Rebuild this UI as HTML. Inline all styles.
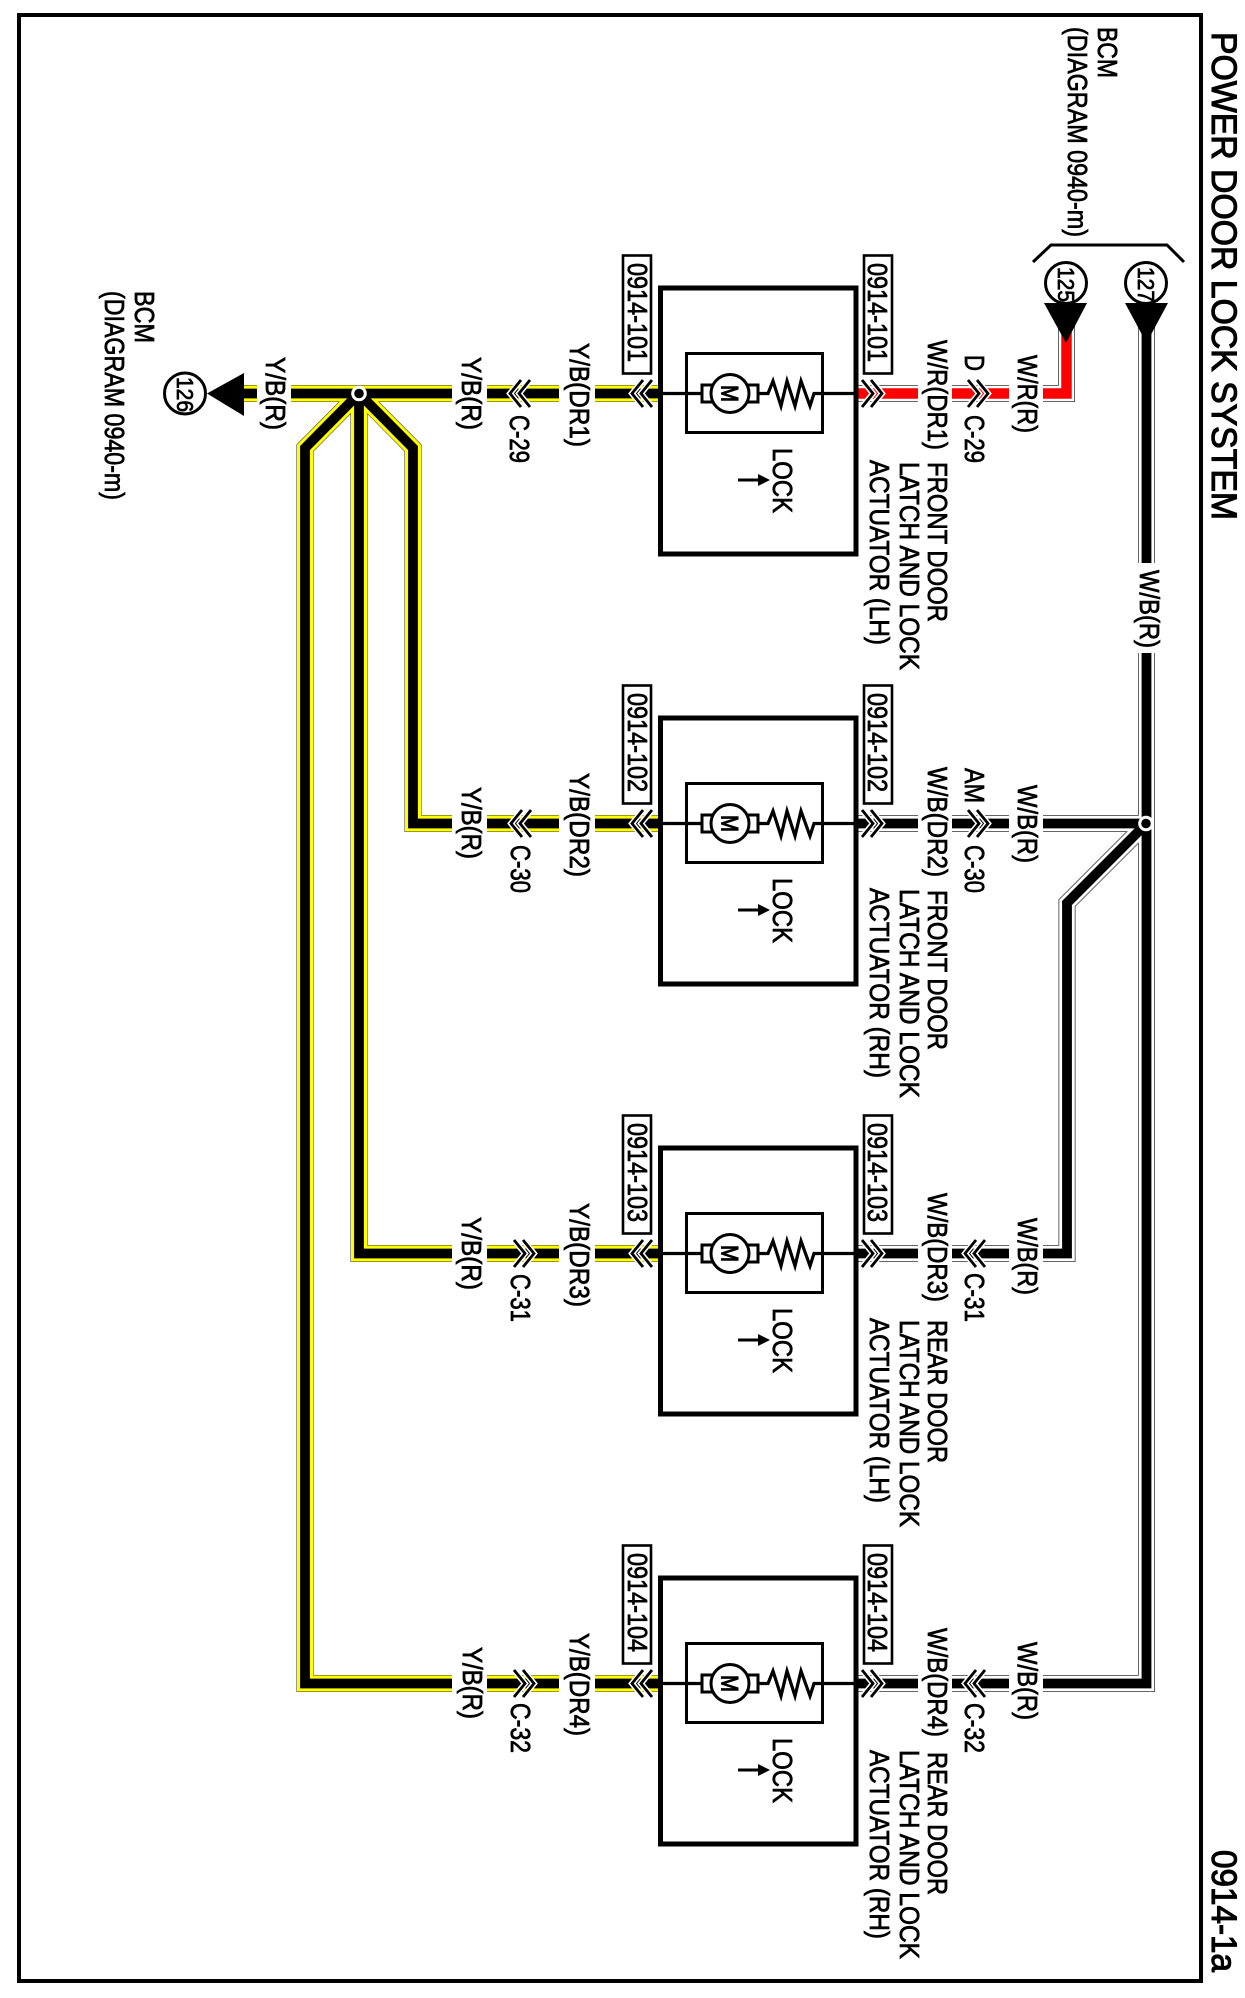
<!DOCTYPE html>
<html><head><meta charset="utf-8"><title>Power Door Lock System</title>
<style>
html,body{margin:0;padding:0;background:#fff}
svg{display:block}
text{font-family:"Liberation Sans",Arial,sans-serif;font-size:27.5px;fill:#000;stroke:#000;stroke-width:.75px}
.w{fill:none;stroke-linejoin:miter;stroke-miterlimit:10}
.chev{fill:none;stroke:#000;stroke-width:2.8}
.hal{fill:none;stroke:#fff;stroke-width:6}
</style></head><body>
<svg width="1245" height="1998" viewBox="0 0 1245 1998" xmlns="http://www.w3.org/2000/svg">
<rect width="1245" height="1998" fill="#fff"/>
<rect x="19" y="15" width="1182" height="1966" fill="none" stroke="#000" stroke-width="4"/>

<!-- wires: outlines -->
<g class="w" stroke="#333" stroke-width="17">
<path d="M244 393.5H660"/><path d="M359 393.5L305 448V1683.5H660"/><path d="M359 393.5V1253.5H660"/><path d="M359 393.5L413 448V823.5H660"/>
<path d="M1146.5 320V1683.5H856"/><path d="M1146.5 823.5H856"/><path d="M1146.5 823.5L1067 903V1253.5H856"/>
<path d="M1066.5 320V393.5H856"/>
</g>
<g class="w" stroke="#ffff00" stroke-width="16">
<path d="M244 393.5H660"/><path d="M359 393.5L305 448V1683.5H660"/><path d="M359 393.5V1253.5H660"/><path d="M359 393.5L413 448V823.5H660"/>
</g>
<g class="w" stroke="#fff" stroke-width="15.5">
<path d="M1146.5 320V1683.5H856"/><path d="M1146.5 823.5H856"/><path d="M1146.5 823.5L1067 903V1253.5H856"/>
<path d="M1066.5 320V393.5H856"/>
</g>
<g class="w" stroke="#000" stroke-width="9.8">
<path d="M244 393.5H660"/><path d="M359 393.5L305 448V1683.5H660"/><path d="M359 393.5V1253.5H660"/><path d="M359 393.5L413 448V823.5H660"/>
<path d="M1146.5 320V1683.5H856"/><path d="M1146.5 823.5H856"/><path d="M1146.5 823.5L1067 903V1253.5H856"/>
</g>
<path class="w" stroke="#f00" stroke-width="10.5" d="M1066.5 320V393.5H856"/>

<!-- label gaps -->
<g fill="#fff">
<rect x="257" y="380" width="34" height="27"/>
<rect x="452" y="380" width="35" height="27"/><rect x="559" y="380" width="36" height="27"/>
<rect x="918" y="380" width="34" height="27"/><rect x="1009" y="380" width="34" height="27"/>
<rect x="452" y="810" width="35" height="27"/><rect x="559" y="810" width="36" height="27"/>
<rect x="918" y="810" width="34" height="27"/><rect x="1009" y="810" width="34" height="27"/>
<rect x="452" y="1240" width="35" height="27"/><rect x="559" y="1240" width="36" height="27"/>
<rect x="918" y="1240" width="34" height="27"/><rect x="1009" y="1240" width="34" height="27"/>
<rect x="452" y="1670" width="35" height="27"/><rect x="559" y="1670" width="36" height="27"/>
<rect x="918" y="1670" width="34" height="27"/><rect x="1009" y="1670" width="34" height="27"/>
<rect x="1134" y="563" width="26" height="90"/>
</g>

<!-- junctions -->
<circle cx="359" cy="393.5" r="7.8" fill="#fff"/><circle cx="359" cy="393.5" r="4.8" fill="#000"/>
<circle cx="1146" cy="823.5" r="7.8" fill="#fff"/><circle cx="1146" cy="823.5" r="4.8" fill="#000"/>

<!-- mid connectors -->
<g>
<path class="hal" d="M530 380L519 393.5L530 407M521 380L510 393.5L521 407"/><path class="chev" d="M530 380L519 393.5L530 407M521 380L510 393.5L521 407"/>
<path class="hal" d="M968 380L979 393.5L968 407M977 380L988 393.5L977 407"/><path class="chev" d="M968 380L979 393.5L968 407M977 380L988 393.5L977 407"/>
<path class="hal" d="M531 810L520 823.5L531 837M522 810L511 823.5L522 837"/><path class="chev" d="M531 810L520 823.5L531 837M522 810L511 823.5L522 837"/>
<path class="hal" d="M968 810L979 823.5L968 837M977 810L988 823.5L977 837"/><path class="chev" d="M968 810L979 823.5L968 837M977 810L988 823.5L977 837"/>
<path class="hal" d="M514 1240L525 1253.5L514 1267M523 1240L534 1253.5L523 1267"/><path class="chev" d="M514 1240L525 1253.5L514 1267M523 1240L534 1253.5L523 1267"/>
<path class="hal" d="M985 1240L974 1253.5L985 1267M976 1240L965 1253.5L976 1267"/><path class="chev" d="M985 1240L974 1253.5L985 1267M976 1240L965 1253.5L976 1267"/>
<path class="hal" d="M514 1670L525 1683.5L514 1697M523 1670L534 1683.5L523 1697"/><path class="chev" d="M514 1670L525 1683.5L514 1697M523 1670L534 1683.5L523 1697"/>
<path class="hal" d="M985 1670L974 1683.5L985 1697M976 1670L965 1683.5L976 1697"/><path class="chev" d="M985 1670L974 1683.5L985 1697M976 1670L965 1683.5L976 1697"/>
</g>

<!-- Row 1 -->
<g>
<rect x="660.5" y="288" width="195.5" height="266" fill="none" stroke="#000" stroke-width="5"/>
<rect x="686.5" y="353.5" width="136" height="79" fill="none" stroke="#000" stroke-width="3"/>
<path d="M660 393.5H702M759 393.5H768L773 381L781 406L787 381L795 406L801 381L810 406L814 393.5H856" fill="none" stroke="#000" stroke-width="3.2"/>
<rect x="702" y="385" width="56" height="17" fill="#fff" stroke="#000" stroke-width="3"/>
<circle cx="730" cy="393.5" r="19" fill="#fff" stroke="#000" stroke-width="3"/>
<text transform="translate(721.5 385) rotate(90)" textLength="17" lengthAdjust="spacingAndGlyphs" style="font-size:24px;stroke-width:1.1px">M</text>
<text transform="translate(773 448) rotate(90)" textLength="65" lengthAdjust="spacingAndGlyphs">LOCK</text>
<path d="M738 480H760" stroke="#000" stroke-width="3"/><path d="M758 474L770 480L758 486Z"/>
<rect x="623" y="255.5" width="28" height="118" fill="#fff" stroke="#000" stroke-width="2.6"/>
<text transform="translate(628 263) rotate(90)" textLength="99" lengthAdjust="spacingAndGlyphs">0914-101</text>
<rect x="864" y="255.5" width="28" height="118" fill="#fff" stroke="#000" stroke-width="2.6"/>
<text transform="translate(868 263) rotate(90)" textLength="99" lengthAdjust="spacingAndGlyphs">0914-101</text>
<path class="hal" d="M862 380L873 393.5L862 407M871 380L882 393.5L871 407"/><path class="chev" d="M862 380L873 393.5L862 407M871 380L882 393.5L871 407"/>
<path class="hal" d="M652 380L641 393.5L652 407M643 380L632 393.5L643 407"/><path class="chev" d="M652 380L641 393.5L652 407M643 380L632 393.5L643 407"/>
</g>
<!-- Row 2 -->
<g transform="translate(0 430)">
<rect x="660.5" y="288" width="195.5" height="266" fill="none" stroke="#000" stroke-width="5"/>
<rect x="686.5" y="353.5" width="136" height="79" fill="none" stroke="#000" stroke-width="3"/>
<path d="M660 393.5H702M759 393.5H768L773 381L781 406L787 381L795 406L801 381L810 406L814 393.5H856" fill="none" stroke="#000" stroke-width="3.2"/>
<rect x="702" y="385" width="56" height="17" fill="#fff" stroke="#000" stroke-width="3"/>
<circle cx="730" cy="393.5" r="19" fill="#fff" stroke="#000" stroke-width="3"/>
<text transform="translate(721.5 385) rotate(90)" textLength="17" lengthAdjust="spacingAndGlyphs" style="font-size:24px;stroke-width:1.1px">M</text>
<text transform="translate(773 448) rotate(90)" textLength="65" lengthAdjust="spacingAndGlyphs">LOCK</text>
<path d="M738 480H760" stroke="#000" stroke-width="3"/><path d="M758 474L770 480L758 486Z"/>
<rect x="623" y="255.5" width="28" height="118" fill="#fff" stroke="#000" stroke-width="2.6"/>
<text transform="translate(628 263) rotate(90)" textLength="99" lengthAdjust="spacingAndGlyphs">0914-102</text>
<rect x="864" y="255.5" width="28" height="118" fill="#fff" stroke="#000" stroke-width="2.6"/>
<text transform="translate(868 263) rotate(90)" textLength="99" lengthAdjust="spacingAndGlyphs">0914-102</text>
<path class="hal" d="M862 380L873 393.5L862 407M871 380L882 393.5L871 407"/><path class="chev" d="M862 380L873 393.5L862 407M871 380L882 393.5L871 407"/>
<path class="hal" d="M652 380L641 393.5L652 407M643 380L632 393.5L643 407"/><path class="chev" d="M652 380L641 393.5L652 407M643 380L632 393.5L643 407"/>
</g>
<!-- Row 3 -->
<g transform="translate(0 860)">
<rect x="660.5" y="288" width="195.5" height="266" fill="none" stroke="#000" stroke-width="5"/>
<rect x="686.5" y="353.5" width="136" height="79" fill="none" stroke="#000" stroke-width="3"/>
<path d="M660 393.5H702M759 393.5H768L773 381L781 406L787 381L795 406L801 381L810 406L814 393.5H856" fill="none" stroke="#000" stroke-width="3.2"/>
<rect x="702" y="385" width="56" height="17" fill="#fff" stroke="#000" stroke-width="3"/>
<circle cx="730" cy="393.5" r="19" fill="#fff" stroke="#000" stroke-width="3"/>
<text transform="translate(721.5 385) rotate(90)" textLength="17" lengthAdjust="spacingAndGlyphs" style="font-size:24px;stroke-width:1.1px">M</text>
<text transform="translate(773 448) rotate(90)" textLength="65" lengthAdjust="spacingAndGlyphs">LOCK</text>
<path d="M738 480H760" stroke="#000" stroke-width="3"/><path d="M758 474L770 480L758 486Z"/>
<rect x="623" y="255.5" width="28" height="118" fill="#fff" stroke="#000" stroke-width="2.6"/>
<text transform="translate(628 263) rotate(90)" textLength="99" lengthAdjust="spacingAndGlyphs">0914-103</text>
<rect x="864" y="255.5" width="28" height="118" fill="#fff" stroke="#000" stroke-width="2.6"/>
<text transform="translate(868 263) rotate(90)" textLength="99" lengthAdjust="spacingAndGlyphs">0914-103</text>
<path class="hal" d="M862 380L873 393.5L862 407M871 380L882 393.5L871 407"/><path class="chev" d="M862 380L873 393.5L862 407M871 380L882 393.5L871 407"/>
<path class="hal" d="M652 380L641 393.5L652 407M643 380L632 393.5L643 407"/><path class="chev" d="M652 380L641 393.5L652 407M643 380L632 393.5L643 407"/>
</g>
<!-- Row 4 -->
<g transform="translate(0 1290)">
<rect x="660.5" y="288" width="195.5" height="266" fill="none" stroke="#000" stroke-width="5"/>
<rect x="686.5" y="353.5" width="136" height="79" fill="none" stroke="#000" stroke-width="3"/>
<path d="M660 393.5H702M759 393.5H768L773 381L781 406L787 381L795 406L801 381L810 406L814 393.5H856" fill="none" stroke="#000" stroke-width="3.2"/>
<rect x="702" y="385" width="56" height="17" fill="#fff" stroke="#000" stroke-width="3"/>
<circle cx="730" cy="393.5" r="19" fill="#fff" stroke="#000" stroke-width="3"/>
<text transform="translate(721.5 385) rotate(90)" textLength="17" lengthAdjust="spacingAndGlyphs" style="font-size:24px;stroke-width:1.1px">M</text>
<text transform="translate(773 448) rotate(90)" textLength="65" lengthAdjust="spacingAndGlyphs">LOCK</text>
<path d="M738 480H760" stroke="#000" stroke-width="3"/><path d="M758 474L770 480L758 486Z"/>
<rect x="623" y="255.5" width="28" height="118" fill="#fff" stroke="#000" stroke-width="2.6"/>
<text transform="translate(628 263) rotate(90)" textLength="99" lengthAdjust="spacingAndGlyphs">0914-104</text>
<rect x="864" y="255.5" width="28" height="118" fill="#fff" stroke="#000" stroke-width="2.6"/>
<text transform="translate(868 263) rotate(90)" textLength="99" lengthAdjust="spacingAndGlyphs">0914-104</text>
<path class="hal" d="M862 380L873 393.5L862 407M871 380L882 393.5L871 407"/><path class="chev" d="M862 380L873 393.5L862 407M871 380L882 393.5L871 407"/>
<path class="hal" d="M652 380L641 393.5L652 407M643 380L632 393.5L643 407"/><path class="chev" d="M652 380L641 393.5L652 407M643 380L632 393.5L643 407"/>
</g>

<!-- Top connectors -->
<path d="M1033 262L1051 245H1167L1184 262" fill="none" stroke="#000" stroke-width="3"/>
<circle cx="1066" cy="283" r="20.5" fill="#fff" stroke="#000" stroke-width="3"/>
<circle cx="1146" cy="283" r="20.5" fill="#fff" stroke="#000" stroke-width="3"/>
<text transform="translate(1058 267) rotate(90)" textLength="35" lengthAdjust="spacingAndGlyphs" style="font-size:23px">125</text>
<text transform="translate(1138 267) rotate(90)" textLength="35" lengthAdjust="spacingAndGlyphs" style="font-size:23px">127</text>
<path d="M1044 303H1087L1066 343Z"/><path d="M1125 303H1168L1146.5 343Z"/>
<!-- 126 -->
<circle cx="185" cy="393.5" r="20.5" fill="#fff" stroke="#000" stroke-width="3"/>
<text transform="translate(177 377) rotate(90)" textLength="35" lengthAdjust="spacingAndGlyphs" style="font-size:23px">126</text>
<path d="M207 393.5L244 373V416Z"/>

<!-- General text -->
<text transform="translate(1212 32) rotate(90)" textLength="488" lengthAdjust="spacingAndGlyphs" style="font-size:35px;stroke-width:1.1px">POWER DOOR LOCK SYSTEM</text>
<text transform="translate(1212 1850) rotate(90)" textLength="122" lengthAdjust="spacingAndGlyphs" style="font-size:35px;stroke-width:1.1px">0914-1a</text>
<text transform="translate(1098 27) rotate(90)" textLength="51" lengthAdjust="spacingAndGlyphs">BCM</text>
<text transform="translate(1068 27) rotate(90)" textLength="210" lengthAdjust="spacingAndGlyphs">(DIAGRAM 0940-m)</text>
<text transform="translate(135 291) rotate(90)" textLength="52" lengthAdjust="spacingAndGlyphs">BCM</text>
<text transform="translate(105 291) rotate(90)" textLength="209" lengthAdjust="spacingAndGlyphs">(DIAGRAM 0940-m)</text>
<text transform="translate(1140 570) rotate(90)" textLength="78" lengthAdjust="spacingAndGlyphs">W/B(R)</text>
<text transform="translate(266 357) rotate(90)" textLength="73" lengthAdjust="spacingAndGlyphs">Y/B(R)</text>

<!-- Row 1 labels -->
<text transform="translate(1018 355) rotate(90)" textLength="78" lengthAdjust="spacingAndGlyphs">W/R(R)</text>
<text transform="translate(965 355) rotate(90)" textLength="16" lengthAdjust="spacingAndGlyphs">D</text>
<text transform="translate(965 415) rotate(90)" textLength="48" lengthAdjust="spacingAndGlyphs">C-29</text>
<text transform="translate(928 340) rotate(90)" textLength="110" lengthAdjust="spacingAndGlyphs">W/R(DR1)</text>
<text transform="translate(928 462) rotate(90)" textLength="160" lengthAdjust="spacingAndGlyphs">FRONT DOOR</text>
<text transform="translate(900 462) rotate(90)" textLength="208" lengthAdjust="spacingAndGlyphs">LATCH AND LOCK</text>
<text transform="translate(870 460) rotate(90)" textLength="185" lengthAdjust="spacingAndGlyphs">ACTUATOR (LH)</text>
<text transform="translate(462 357) rotate(90)" textLength="73" lengthAdjust="spacingAndGlyphs">Y/B(R)</text>
<text transform="translate(510 415) rotate(90)" textLength="48" lengthAdjust="spacingAndGlyphs">C-29</text>
<text transform="translate(570 343) rotate(90)" textLength="104" lengthAdjust="spacingAndGlyphs">Y/B(DR1)</text>

<!-- Row 2 labels -->
<text transform="translate(1018 785) rotate(90)" textLength="78" lengthAdjust="spacingAndGlyphs">W/B(R)</text>
<text transform="translate(965 768) rotate(90)" textLength="35" lengthAdjust="spacingAndGlyphs">AM</text>
<text transform="translate(965 845) rotate(90)" textLength="48" lengthAdjust="spacingAndGlyphs">C-30</text>
<text transform="translate(928 767) rotate(90)" textLength="110" lengthAdjust="spacingAndGlyphs">W/B(DR2)</text>
<text transform="translate(928 890) rotate(90)" textLength="160" lengthAdjust="spacingAndGlyphs">FRONT DOOR</text>
<text transform="translate(900 889) rotate(90)" textLength="209" lengthAdjust="spacingAndGlyphs">LATCH AND LOCK</text>
<text transform="translate(870 888) rotate(90)" textLength="190" lengthAdjust="spacingAndGlyphs">ACTUATOR (RH)</text>
<text transform="translate(462 787) rotate(90)" textLength="72" lengthAdjust="spacingAndGlyphs">Y/B(R)</text>
<text transform="translate(511 845) rotate(90)" textLength="48" lengthAdjust="spacingAndGlyphs">C-30</text>
<text transform="translate(570 773) rotate(90)" textLength="104" lengthAdjust="spacingAndGlyphs">Y/B(DR2)</text>

<!-- Row 3 labels -->
<text transform="translate(1018 1218) rotate(90)" textLength="77" lengthAdjust="spacingAndGlyphs">W/B(R)</text>
<text transform="translate(965 1273) rotate(90)" textLength="49" lengthAdjust="spacingAndGlyphs">C-31</text>
<text transform="translate(928 1193) rotate(90)" textLength="109" lengthAdjust="spacingAndGlyphs">W/B(DR3)</text>
<text transform="translate(928 1320) rotate(90)" textLength="143" lengthAdjust="spacingAndGlyphs">REAR DOOR</text>
<text transform="translate(900 1320) rotate(90)" textLength="207" lengthAdjust="spacingAndGlyphs">LATCH AND LOCK</text>
<text transform="translate(870 1318) rotate(90)" textLength="185" lengthAdjust="spacingAndGlyphs">ACTUATOR (LH)</text>
<text transform="translate(462 1217) rotate(90)" textLength="73" lengthAdjust="spacingAndGlyphs">Y/B(R)</text>
<text transform="translate(511 1274) rotate(90)" textLength="48" lengthAdjust="spacingAndGlyphs">C-31</text>
<text transform="translate(570 1203) rotate(90)" textLength="104" lengthAdjust="spacingAndGlyphs">Y/B(DR3)</text>

<!-- Row 4 labels -->
<text transform="translate(1018 1642) rotate(90)" textLength="78" lengthAdjust="spacingAndGlyphs">W/B(R)</text>
<text transform="translate(965 1703) rotate(90)" textLength="50" lengthAdjust="spacingAndGlyphs">C-32</text>
<text transform="translate(928 1628) rotate(90)" textLength="109" lengthAdjust="spacingAndGlyphs">W/B(DR4)</text>
<text transform="translate(928 1752) rotate(90)" textLength="143" lengthAdjust="spacingAndGlyphs">REAR DOOR</text>
<text transform="translate(900 1750) rotate(90)" textLength="209" lengthAdjust="spacingAndGlyphs">LATCH AND LOCK</text>
<text transform="translate(870 1750) rotate(90)" textLength="189" lengthAdjust="spacingAndGlyphs">ACTUATOR (RH)</text>
<text transform="translate(463 1647) rotate(90)" textLength="72" lengthAdjust="spacingAndGlyphs">Y/B(R)</text>
<text transform="translate(511 1703) rotate(90)" textLength="50" lengthAdjust="spacingAndGlyphs">C-32</text>
<text transform="translate(570 1633) rotate(90)" textLength="103" lengthAdjust="spacingAndGlyphs">Y/B(DR4)</text>
</svg>
</body></html>
